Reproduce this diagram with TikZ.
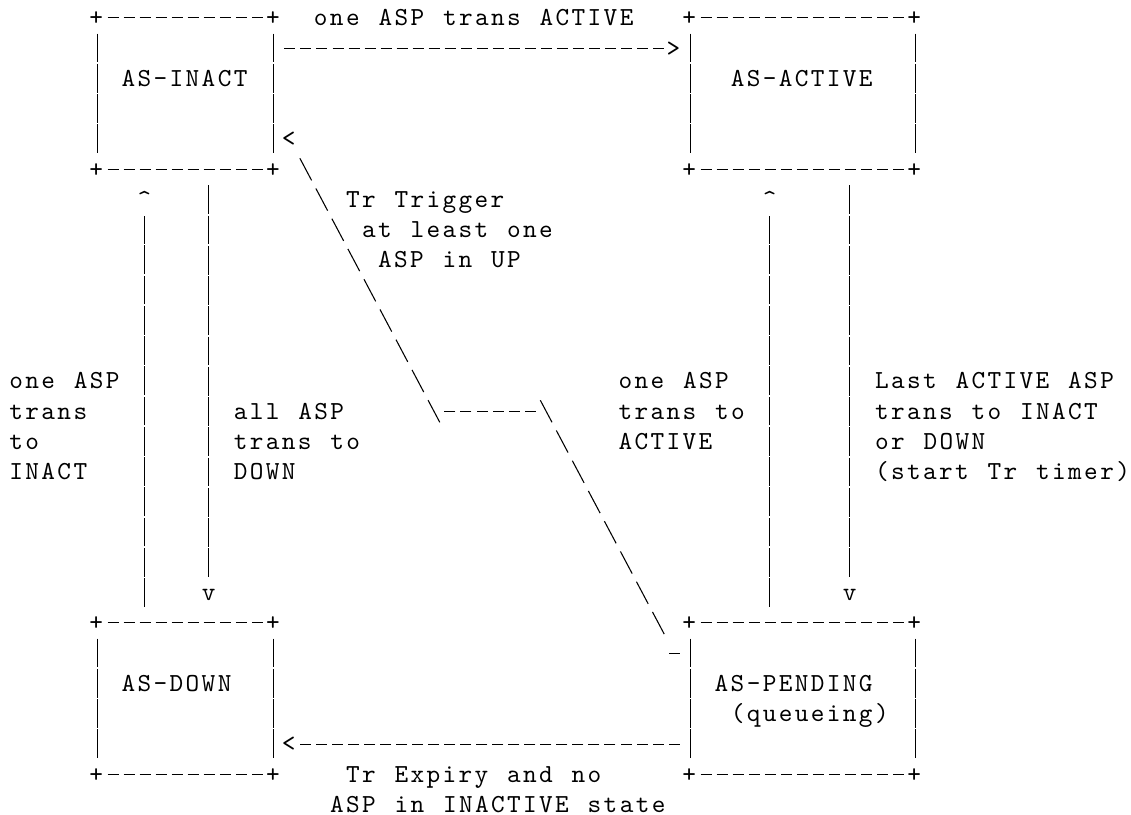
\documentclass[tikz,border=0pt]{standalone}
\usepackage{fontspec}
\newfontfamily\asciifont[LetterSpace=9.15, WordSpace=1.1744]{lmmono10-regular.otf}
\usepackage{tikz}

\tikzset{
  ascii/.style={font=\asciifont\fontsize{19.5pt}{22.6875pt}\selectfont, inner sep=0pt,
    anchor=base west, xshift=-6.01pt, yshift=-5.9pt},
  hdash/.style={draw, line width=0.8pt, dash pattern=on 8.25pt off 3.7725pt},
  hedge/.style={hdash, shorten <=7.9pt, shorten >=7.9pt},
  vbar/.style={draw, line width=0.8pt, dash pattern=on 21.5625pt off 1.125pt},
  vedge/.style={vbar, shorten <=11.9pt, shorten >=11.9pt},
  vlink/.style={vbar, shorten <=11.9pt, shorten >=34.6pt},
  slash/.style={draw, line width=0.8pt, dash pattern=on 18.75pt off 6.92pt,
    shorten <=-9.375pt, shorten >=-9.375pt},
  statebox/.style={rectangle, inner sep=0pt, minimum width=#1, minimum height=113.4375pt,
    append after command={
      \pgfextra{\xdef\boxname{\tikzlastnode}}
      (\boxname.north west) edge[hedge] (\boxname.north east)
      (\boxname.south west) edge[hedge] (\boxname.south east)
      (\boxname.north west) edge[vedge] (\boxname.south west)
      (\boxname.north east) edge[vedge] (\boxname.south east)
      (\boxname.north west) node[ascii] {+}
      (\boxname.north east) node[ascii] {+}
      (\boxname.south west) node[ascii] {+}
      (\boxname.south east) node[ascii] {+}
    }},
}

\begin{document}
\begin{tikzpicture}[x=12.0225pt, y=-22.6875pt]
    \fill[white] (-1.07,-0.595) rectangle (69.486,26.347);
    \useasboundingbox (-1.07,-0.595) rectangle (69.486,26.347);

    % states
    \node[statebox=132.25pt] (inact) at (10.5,2.5) {};
    \node[statebox=168.32pt] (active) at (49,2.5) {};
    \node[statebox=132.25pt] (down) at (10.5,22.5) {};
    \node[statebox=168.32pt] (pending) at (49,22.5) {};

    \node[ascii] (inactname) at (7,2) {AS-INACT};
    \node[ascii] (activename) at (45,2) {AS-ACTIVE};
    \node[ascii] (downname) at (7,22) {AS-DOWN};
    \node[ascii] (pendname) at (44,22) {AS-PENDING};
    \node[ascii] (pendnote) at (45,23) {(queueing)};

    % arrow heads
    \node[ascii] (toact) at (41,1) {>};
    \node[ascii] (trarr) at (17,4) {<};
    \node[ascii] (upinact) at (8,6) {\textasciicircum};
    \node[ascii] (downarr) at (12,19) {v};
    \node[ascii] (upactive) at (47,6) {\textasciicircum};
    \node[ascii] (downpend) at (52,19) {v};
    \node[ascii] (todown) at (17,24) {<};

    % transitions
    \draw[hdash, shorten <=7.9pt] (inact.east |- toact) -- (toact.west);
    \draw[hdash, shorten <=7.9pt] (pending.west |- todown) -- (todown.east);
    \draw[vlink] (down.north -| upinact) -- (inact.south -| upinact);
    \draw[vlink] (inact.south -| downarr) -- (down.north -| downarr);
    \draw[vlink] (pending.north -| upactive) -- (active.south -| upactive);
    \draw[vlink] (active.south -| downpend) -- (pending.north -| downpend);

    % Tr trigger path
    \coordinate (d0) at (41,21);
    \coordinate (d1) at (40,20);
    \coordinate (d2) at (33,13);
    \coordinate (d3) at (26,13);
    \coordinate (d4) at (18,5);
    \draw[hdash, shorten <=7.9pt, shorten >=-4.12pt] (pending.west |- d0) -- (d0);
    \draw[slash] (d1) -- (d2);
    \draw[hedge] (d2) -- (d3);
    \draw[slash] (d3) -- (d4);

    % labels
    \node[ascii] (actlbl) at (19,0) {one ASP trans ACTIVE};
    \node[ascii] (trlbla) at (21,6) {Tr Trigger};
    \node[ascii] (trlblb) at (22,7) {at least one};
    \node[ascii] (trlblc) at (23,8) {ASP in UP};

    \node[ascii] (inlbla) at (0,12) {one ASP};
    \node[ascii] (inlblb) at (0,13) {trans};
    \node[ascii] (inlblc) at (0,14) {to};
    \node[ascii] (inlbld) at (0,15) {INACT};

    \node[ascii] (dnlbla) at (14,13) {all ASP};
    \node[ascii] (dnlblb) at (14,14) {trans to};
    \node[ascii] (dnlblc) at (14,15) {DOWN};

    \node[ascii] (aclbla) at (38,12) {one ASP};
    \node[ascii] (aclblb) at (38,13) {trans to};
    \node[ascii] (aclblc) at (38,14) {ACTIVE};

    \node[ascii] (pdlbla) at (54,12) {Last ACTIVE ASP};
    \node[ascii] (pdlblb) at (54,13) {trans to INACT};
    \node[ascii] (pdlblc) at (54,14) {or DOWN};
    \node[ascii] (pdlbld) at (54,15) {(start Tr timer)};

    \node[ascii] (exlbla) at (21,25) {Tr Expiry and no};
    \node[ascii] (exlblb) at (20,26) {ASP in INACTIVE state};
\end{tikzpicture}
\end{document}
